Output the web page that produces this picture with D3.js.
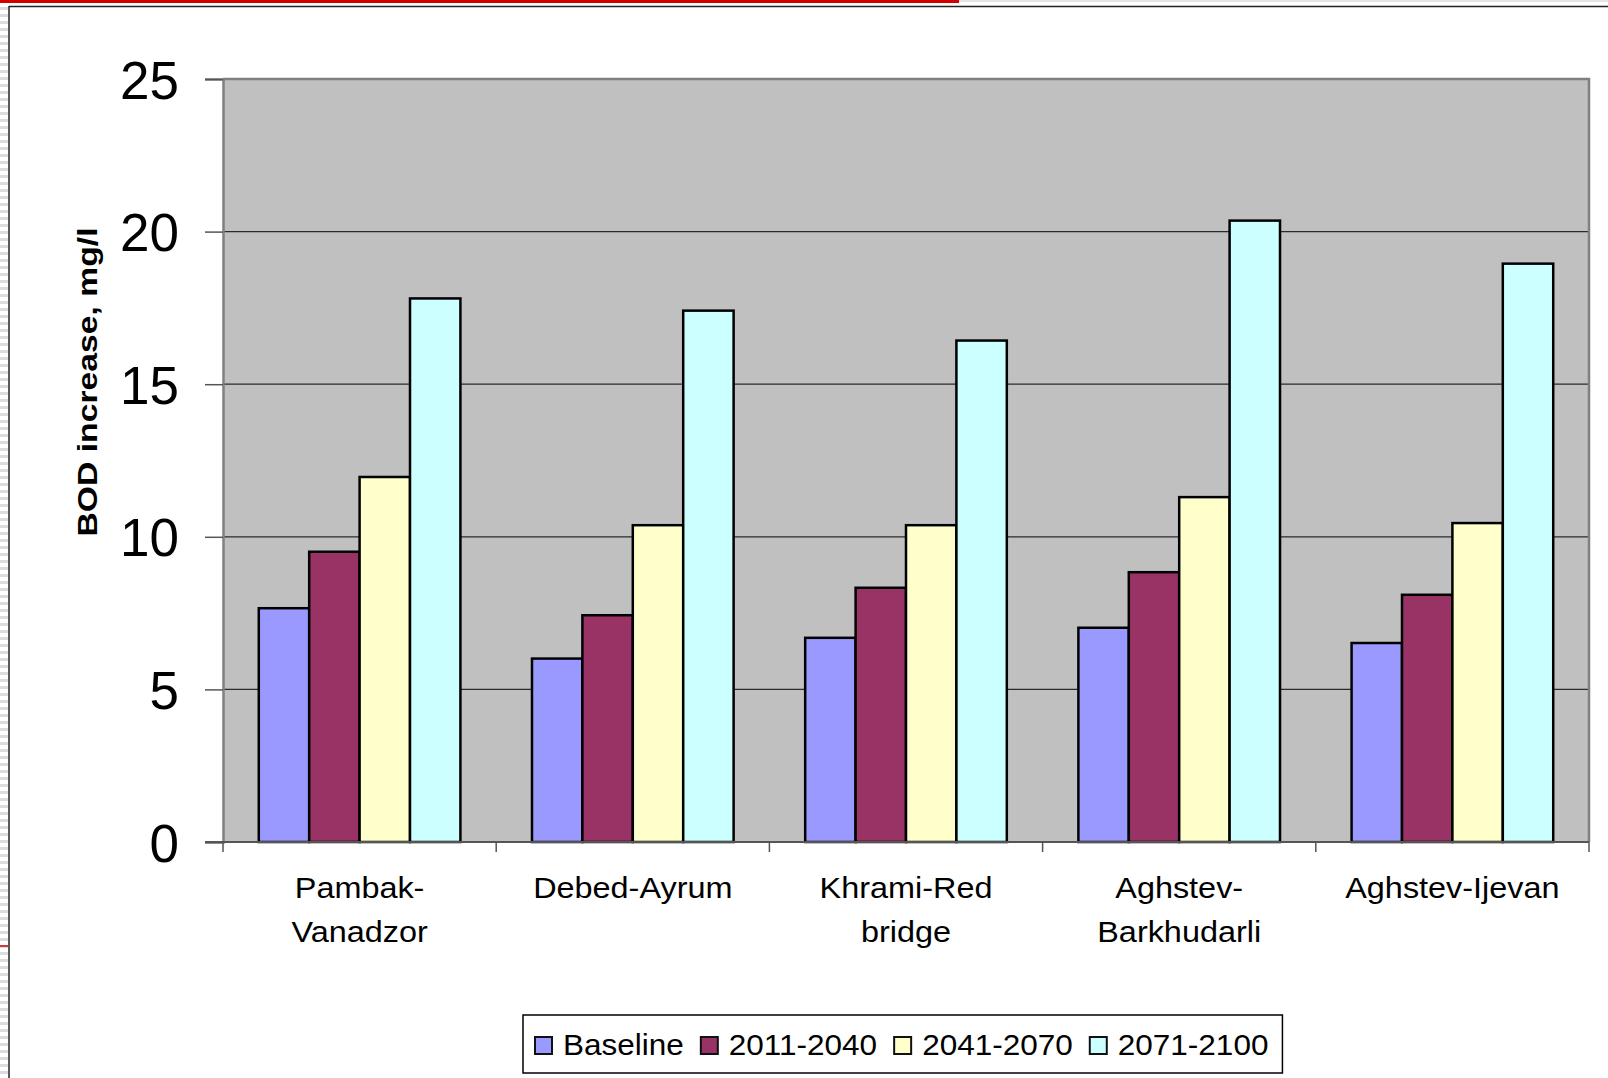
<!DOCTYPE html>
<html>
<head>
<meta charset="utf-8">
<script src="https://cdn.jsdelivr.net/npm/d3@7"></script>
<style>
  html, body { margin: 0; padding: 0; background: #fff; }
  svg { display: block; font-family: "Liberation Sans", Arial, sans-serif; }
</style>
</head>
<body>
<div id="container"></div>
<script>
// station names, split into the lines they are drawn on
const categories = ["Pambak-Vanadzor", "Debed-Ayrum", "Khrami-Red bridge", "Aghstev-Barkhudarli", "Aghstev-Ijevan"];
const categoryLines = [["Pambak-", "Vanadzor"], ["Debed-Ayrum"], ["Khrami-Red", "bridge"], ["Aghstev-", "Barkhudarli"], ["Aghstev-Ijevan"]];

const seriesNames = ["Baseline", "2011-2040", "2041-2070", "2071-2100"];
const seriesColors = ["#9999ff", "#993366", "#ffffcc", "#ccffff"];

// BOD increase, mg/l
const baseline = [7.66, 6.01, 6.69, 7.02, 6.52];
const p2011 = [9.51, 7.43, 8.33, 8.84, 8.10];
const p2041 = [11.96, 10.38, 10.38, 11.30, 10.45];
const p2071 = [17.81, 17.41, 16.43, 20.36, 18.95];

const yTicks = [0, 5, 10, 15, 20, 25];
const yTitle = "BOD increase, mg/l";

document.addEventListener("DOMContentLoaded", function () {
  const w = 1608;
  const h = 1078;
  const plot = { left: 223, right: 1589, top: 79, bottom: 842 };

  const values = [baseline, p2011, p2041, p2071];
  const rows = categories.map((c, i) => ({
    cat: c,
    vals: seriesNames.map((s, j) => ({ key: s, value: values[j][i] }))
  }));

  // the source text is a bit wider than plain Arial; returns new width
  const widen = function (node, k) {
    const len = node.getComputedTextLength() * k;
    d3.select(node).attr("textLength", len).attr("lengthAdjust", "spacingAndGlyphs");
    return len;
  };

  const svg = d3
    .select("#container")
    .append("svg")
    .attr("width", w)
    .attr("height", h);

  // slide frame bits
  const defs = svg.append("defs");
  const pat = defs
    .append("pattern")
    .attr("id", "stripes")
    .attr("width", 8)
    .attr("height", 7)
    .attr("patternUnits", "userSpaceOnUse");
  pat.append("rect").attr("width", 8).attr("height", 3).attr("fill", "#dcdcdc");
  svg.append("rect").attr("x", 0).attr("y", 0).attr("width", 8).attr("height", h).attr("fill", "url(#stripes)");
  svg.append("rect").attr("x", 0).attr("y", 0).attr("width", 959).attr("height", 3).attr("fill", "#d40000");
  svg.append("rect").attr("x", 959).attr("y", 0).attr("width", w - 959).attr("height", 2).attr("fill", "#e4e4e4");
  svg.append("line").attr("x1", 9).attr("x2", w).attr("y1", 6.5).attr("y2", 6.5).attr("stroke", "#222").attr("stroke-width", 1.5);
  svg.append("line").attr("x1", 9).attr("x2", 9).attr("y1", 6).attr("y2", h).attr("stroke", "#222").attr("stroke-width", 1.5);
  svg.append("line").attr("x1", 0).attr("x2", 8).attr("y1", 946).attr("y2", 946).attr("stroke", "#d40000").attr("stroke-width", 1.5);

  const x0 = d3.scaleBand().domain(categories).range([plot.left, plot.right]);
  const x1 = d3
    .scaleBand()
    .domain(seriesNames)
    .range([0, x0.bandwidth()])
    .paddingInner(0)
    .paddingOuter(0.71);
  const y = d3.scaleLinear().domain([0, 25]).range([plot.bottom, plot.top]);
  const color = d3.scaleOrdinal().domain(seriesNames).range(seriesColors);

  // plot background
  svg
    .append("rect")
    .attr("x", plot.left)
    .attr("y", plot.top)
    .attr("width", plot.right - plot.left)
    .attr("height", plot.bottom - plot.top)
    .attr("fill", "#c0c0c0");

  // gridlines
  svg
    .append("g")
    .selectAll("line")
    .data(yTicks.filter((t) => t > 0 && t < 25))
    .enter()
    .append("line")
    .attr("x1", plot.left)
    .attr("x2", plot.right)
    .attr("y1", (d) => y(d))
    .attr("y2", (d) => y(d))
    .attr("stroke", "#2a2a2a")
    .attr("stroke-width", 1.2);

  // plot border (top and right)
  svg
    .append("path")
    .attr("d", `M${plot.left},${plot.top}H${plot.right}V${plot.bottom}`)
    .attr("fill", "none")
    .attr("stroke", "#808080")
    .attr("stroke-width", 2.5);

  // bars
  svg
    .append("g")
    .selectAll("g")
    .data(rows)
    .enter()
    .append("g")
    .attr("transform", (d) => `translate(${x0(d.cat)},0)`)
    .selectAll("rect")
    .data((d) => d.vals)
    .enter()
    .append("rect")
    .attr("x", (d) => x1(d.key))
    .attr("y", (d) => y(d.value))
    .attr("width", x1.bandwidth())
    .attr("height", (d) => y(0) - y(d.value))
    .attr("fill", (d) => color(d.key))
    .attr("stroke", "#000")
    .attr("stroke-width", 2.5);

  // y axis
  const yAxis = d3.axisLeft(y).tickValues(yTicks).tickSize(18).tickPadding(26);
  const gy = svg
    .append("g")
    .attr("transform", `translate(${plot.left},0)`)
    .call(yAxis);
  gy.select(".domain").attr("stroke", "#808080").attr("stroke-width", 2.5);
  gy.selectAll(".tick line").attr("stroke", "#555").attr("stroke-width", 1.5);
  gy.selectAll(".tick text")
    .attr("fill", "#000")
    .style("font-size", "53px")
    .attr("dy", "0.36em");

  // x axis line and category boundary ticks
  svg
    .append("line")
    .attr("x1", plot.left - 18)
    .attr("x2", plot.right)
    .attr("y1", plot.bottom)
    .attr("y2", plot.bottom)
    .attr("stroke", "#555")
    .attr("stroke-width", 2);
  const bounds = categories.map((c) => x0(c)).concat([plot.right]);
  svg
    .append("g")
    .selectAll("line")
    .data(bounds)
    .enter()
    .append("line")
    .attr("x1", (d) => d)
    .attr("x2", (d) => d)
    .attr("y1", plot.bottom)
    .attr("y2", plot.bottom + 10)
    .attr("stroke", "#555")
    .attr("stroke-width", 1.5);

  // category labels
  const labels = svg
    .append("g")
    .selectAll("text")
    .data(categories)
    .enter()
    .append("text")
    .attr("text-anchor", "middle")
    .style("font-size", "30px")
    .attr("fill", "#000");
  labels
    .selectAll("tspan")
    .data((d, i) => categoryLines[i].map((t, k) => ({ t, k, x: x0(d) + x0.bandwidth() / 2 })))
    .enter()
    .append("tspan")
    .attr("x", (d) => d.x)
    .attr("y", (d) => 898 + d.k * 43.5)
    .text((d) => d.t)
    .each(function () {
      widen(this, 1.08);
    });

  // y title
  svg
    .append("text")
    .attr("transform", "translate(97,382) rotate(-90)")
    .attr("text-anchor", "middle")
    .style("font-size", "28px")
    .style("font-weight", "bold")
    .attr("textLength", 309)
    .attr("lengthAdjust", "spacingAndGlyphs")
    .text(yTitle);

  // legend
  const legend = svg.append("g");
  const box = legend
    .append("rect")
    .attr("y", 1015)
    .attr("height", 58)
    .attr("fill", "#fff")
    .attr("stroke", "#000")
    .attr("stroke-width", 1.5);
  let cx = 535;
  let lastEnd = cx;
  seriesNames.forEach((s) => {
    legend
      .append("rect")
      .attr("x", cx)
      .attr("y", 1037)
      .attr("width", 17)
      .attr("height", 17)
      .attr("fill", color(s))
      .attr("stroke", "#111")
      .attr("stroke-width", 2);
    const t = legend
      .append("text")
      .attr("x", cx + 28)
      .attr("y", 1055)
      .style("font-size", "30px")
      .attr("fill", "#000")
      .text(s);
    const len = widen(t.node(), 1.05);
    lastEnd = cx + 28 + len;
    cx = lastEnd + 17;
  });
  box.attr("x", 523).attr("width", lastEnd + 14 - 523);
});
</script>
</body>
</html>
